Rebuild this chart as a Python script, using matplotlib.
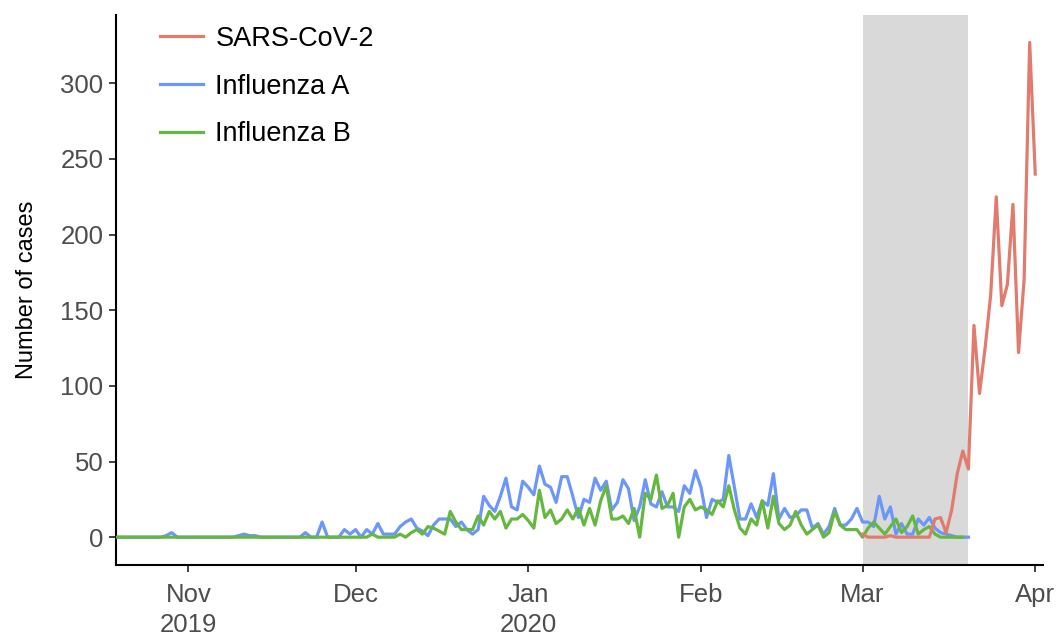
import numpy as np
import pandas as pd
import matplotlib
matplotlib.use("Agg")
import matplotlib.pyplot as plt
import matplotlib.dates as mdates

plt.rcParams['font.family'] = ['Liberation Sans', 'DejaVu Sans']

# daily counts
flu_a_start = "2019-10-19"
flu_a = [0, 0, 0, 0, 0, 0, 0, 0, 0, 1,
         3, 0, 0, 0, 0, 0, 0, 0, 0, 0,
         0, 0, 1, 2, 1, 1, 0, 0, 0, 0,
         0, 0, 0, 0, 3, 0, 0, 10, 0, 0,
         0, 5, 2, 5, 0, 5, 2, 9, 2, 2,
         2, 7, 10, 12, 6, 4, 1, 8, 12, 12,
         12, 7, 10, 5, 2, 5, 27, 21, 17, 27,
         39, 20, 18, 37, 33, 28, 47, 35, 33, 23,
         40, 40, 27, 13, 25, 23, 39, 31, 37, 18,
         23, 38, 32, 11, 20, 38, 22, 20, 30, 20,
         20, 17, 34, 29, 44, 33, 13, 25, 23, 25,
         54, 33, 12, 12, 22, 13, 24, 21, 42, 12,
         19, 13, 14, 18, 18, 6, 9, 2, 7, 19,
         8, 8, 12, 19, 10, 10, 7, 27, 12, 20,
         2, 9, 2, 2, 12, 8, 13, 6, 3, 2,
         1, 0, 0, 0]

flu_b_start = "2019-10-19"
flu_b = [0] * 46 + [2, 0, 0, 0, 0,
         2, 0, 3, 5, 2, 7, 6, 4, 2, 17,
         10, 5, 5, 5, 14, 8, 17, 12, 17, 6,
         12, 12, 15, 11, 6, 31, 13, 18, 9, 12,
         18, 12, 19, 8, 19, 8, 24, 34, 12, 12,
         14, 9, 19, 0, 29, 25, 41, 19, 21, 29,
         0, 20, 25, 18, 20, 18, 15, 24, 20, 34,
         18, 6, 2, 12, 8, 24, 6, 27, 9, 5,
         8, 17, 8, 2, 5, 8, 0, 3, 17, 8,
         5, 5, 5, 0, 6, 10, 6, 2, 7, 12,
         3, 7, 14, 2, 5, 7, 2, 0, 0, 0,
         0, 0]

sars_start = "2020-03-01"
sars = [2, 0, 0, 0, 0, 1, 0, 0, 0, 0,
        0, 0, 0, 12, 13, 3, 18, 42, 57, 45,
        140, 95, 125, 160, 225, 153, 167, 220, 122, 170,
        327, 240]

labels = ["SARS-CoV-2", "Influenza A", "Influenza B"]
colors = ["#E07B6E", "#6D96FA", "#66B740"]

shade_start = "2020-03-01"
shade_end = "2020-03-20"

tick_dates = ["2019-11-01", "2019-12-01", "2020-01-01", "2020-02-01",
              "2020-03-01", "2020-04-01"]
tick_labels = ["Nov\n2019", "Dec", "Jan\n2020", "Feb", "Mar", "Apr"]

dates_a = pd.date_range(flu_a_start, periods=len(flu_a), freq="D")
dates_b = pd.date_range(flu_b_start, periods=len(flu_b), freq="D")
dates_s = pd.date_range(sars_start, periods=len(sars), freq="D")

fig = plt.figure(figsize=(10.6, 6.35), dpi=100)
ax = fig.add_axes([0.1094, 0.110, 0.8746, 0.866])

ax.axvspan(pd.Timestamp(shade_start), pd.Timestamp(shade_end),
           color="#D9D9D9", zorder=0, lw=0)

ax.plot(dates_a, flu_a, color=colors[1], lw=2.3, label=labels[1], zorder=2)
ax.plot(dates_b, flu_b, color=colors[2], lw=2.3, label=labels[2], zorder=3)
ax.plot(dates_s, sars, color=colors[0], lw=2.3, label=labels[0], zorder=4)

ax.set_xlim(pd.Timestamp(flu_a_start), pd.Timestamp(flu_a_start) + pd.Timedelta(days=166.4))
ax.set_ylim(-18.5, 345)
ax.set_yticks([0, 50, 100, 150, 200, 250, 300])
ax.set_xticks([pd.Timestamp(d) for d in tick_dates])
ax.set_xticklabels(tick_labels, linespacing=1.3)

for s in ["top", "right"]:
    ax.spines[s].set_visible(False)
for s in ["left", "bottom"]:
    ax.spines[s].set_linewidth(1.5)
    ax.spines[s].set_color("black")

ax.tick_params(axis="both", length=5, width=1.3, color="#333333",
               labelsize=18.5, labelcolor="#4D4D4D")
ax.tick_params(axis="y", pad=4)
ax.tick_params(axis="x", pad=8)
ax.set_ylabel("Number of cases", fontsize=17, color="black", labelpad=16)

handles, labs = ax.get_legend_handles_labels()
order = [labs.index(l) for l in labels]
ax.legend([handles[i] for i in order], [labs[i] for i in order],
          loc="upper left", bbox_to_anchor=(0.027, 1.015), frameon=False,
          fontsize=19.5, handlelength=1.6, handletextpad=0.45,
          labelspacing=0.8, borderaxespad=0.3)

fig.savefig("out.png", dpi=100)
